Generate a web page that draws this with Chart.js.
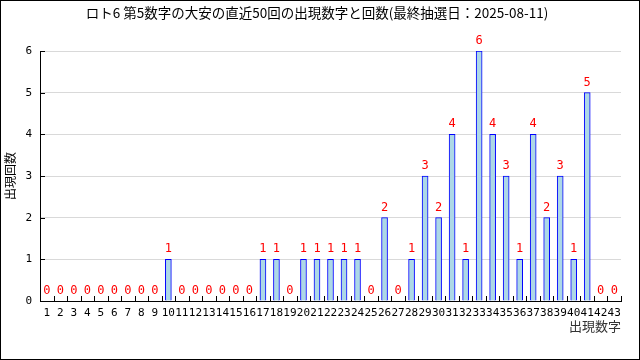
<!DOCTYPE html>
<html>
<head>
<meta charset="utf-8">
<script src="https://cdn.jsdelivr.net/npm/chart.js"></script>
<style>
  html, body { margin: 0; padding: 0; background: #fff; }
</style>
</head>
<body>
<canvas id="chart" width="640" height="360"></canvas>
<script>
// Chart data
const chartTitle = 'ロト6 第5数字の大安の直近50回の出現数字と回数(最終抽選日：2025-08-11)';
const numbers = ['1','2','3','4','5','6','7','8','9','10','11','12','13','14','15','16','17','18','19','20','21','22',
                 '23','24','25','26','27','28','29','30','31','32','33','34','35','36','37','38','39','40','41','42','43'];
const counts = [0,0,0,0,0,0,0,0,0,1,0,0,0,0,0,0,1,1,0,1,1,1,
                1,1,0,2,0,1,3,2,4,1,6,4,3,1,4,2,3,1,5,0,0];
const countTicks = [0,1,2,3,4,5,6];

const monoFont = '"DejaVu Sans Mono", monospace';
const jpFont = '"Noto Sans CJK JP", sans-serif';

// title drawn over the whole canvas width
const titleText = {
    id: 'titleText',
    afterDraw(chart) {
        const ctx = chart.ctx;
        ctx.save();
        ctx.fillStyle = '#000';
        ctx.font = '13.5px ' + jpFont;
        ctx.textAlign = 'center';
        ctx.textBaseline = 'middle';
        ctx.fillText(chartTitle, 317, 13);
        ctx.restore();
    }
};

// red count above each bar
const valueLabels = {
    id: 'valueLabels',
    afterDraw(chart) {
        const ctx = chart.ctx;
        const meta = chart.getDatasetMeta(0);
        ctx.save();
        ctx.fillStyle = '#ff0000';
        ctx.font = '12px ' + monoFont;
        ctx.textAlign = 'center';
        ctx.textBaseline = 'middle';
        meta.data.forEach((bar, i) => {
            ctx.fillText(String(counts[i]), bar.x, bar.y - 10);
        });
        ctx.restore();
    }
};

// short black tick marks pointing into the plot
const innerTicks = {
    id: 'innerTicks',
    afterDraw(chart) {
        const ctx = chart.ctx;
        const area = chart.chartArea;
        const x = chart.scales.x;
        const y = chart.scales.y;
        ctx.save();
        ctx.strokeStyle = '#000';
        ctx.lineWidth = 1;
        ctx.beginPath();
        for (let i = 0; i < numbers.length; i++) {
            const px = i < numbers.length - 1
                ? (x.getPixelForValue(i) + x.getPixelForValue(i + 1)) / 2
                : area.right;
            const sx = Math.round(px) + 0.5;
            ctx.moveTo(sx, area.bottom);
            ctx.lineTo(sx, area.bottom - 5);
        }
        countTicks.forEach(v => {
            if (v === 0) return;
            const py = Math.round(y.getPixelForValue(v)) + 0.5;
            ctx.moveTo(area.left, py);
            ctx.lineTo(area.left + 5, py);
        });
        ctx.stroke();
        ctx.restore();
    }
};

// outer frame
const frame = {
    id: 'frame',
    afterDraw(chart) {
        const ctx = chart.ctx;
        ctx.save();
        ctx.strokeStyle = '#000';
        ctx.lineWidth = 1;
        ctx.strokeRect(0.5, 0.5, chart.width - 1, chart.height - 1);
        ctx.restore();
    }
};

new Chart(document.getElementById('chart').getContext('2d'), {
    type: 'bar',
    data: {
        labels: numbers,
        datasets: [{
            data: counts,
            backgroundColor: '#add8e6',
            borderColor: '#0000ff',
            borderWidth: 1,
            barThickness: 6
        }]
    },
    options: {
        responsive: false,
        animation: false,
        devicePixelRatio: 1,
        layout: { padding: { left: 0, right: 19, top: 51, bottom: 26 } },
        plugins: {
            legend: { display: false },
            tooltip: { enabled: false },
            title: { display: false }
        },
        scales: {
            x: {
                offset: true,
                grid: { drawOnChartArea: false, drawTicks: false },
                border: { color: '#000', width: 1 },
                ticks: {
                    autoSkip: false,
                    maxRotation: 0,
                    minRotation: 0,
                    padding: 6,
                    color: '#000',
                    font: { family: monoFont, size: 11 }
                },
                title: {
                    display: true,
                    text: '出現数字',
                    align: 'end',
                    color: '#333',
                    font: { family: jpFont, size: 13 },
                    padding: 0
                },
                afterFit(scale) { scale.height = 33; }
            },
            y: {
                min: 0,
                max: 6,
                grid: { color: '#d9d9d9', drawTicks: false },
                border: { color: '#000', width: 1 },
                ticks: {
                    stepSize: 1,
                    padding: 8,
                    color: '#000',
                    font: { family: monoFont, size: 11 }
                },
                title: {
                    display: true,
                    text: '出現回数',
                    color: '#000',
                    font: { family: jpFont, size: 12 },
                    padding: { top: 3, bottom: 0 }
                },
                afterFit(scale) { scale.width = 40; }
            }
        }
    },
    plugins: [titleText, valueLabels, innerTicks, frame]
});
</script>
</body>
</html>
